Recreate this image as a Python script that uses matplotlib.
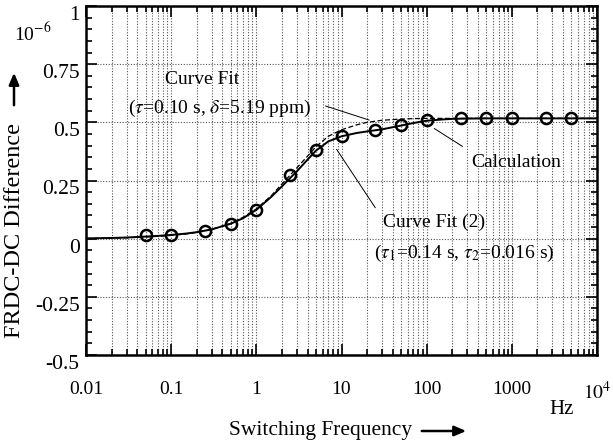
import matplotlib
matplotlib.use("Agg")
import matplotlib.pyplot as plt
from matplotlib.ticker import FixedLocator, FixedFormatter, NullFormatter, LogLocator, MultipleLocator
from matplotlib.transforms import ScaledTranslation
import numpy as np

plt.rcParams['font.family'] = ['Liberation Serif', 'DejaVu Serif']
plt.rcParams['mathtext.fontset'] = 'stix'

# Calculation points
freq_calc = [0.05, 0.1, 0.25, 0.5, 1, 2.5, 5, 10, 25, 50, 100, 250, 500, 1000, 2500, 5000]
calc = [0.014, 0.014, 0.034, 0.064, 0.124, 0.272, 0.38, 0.44, 0.466, 0.487, 0.509,
        0.517, 0.517, 0.517, 0.517, 0.517]

# Curve fits
freq_fit = [0.01, 0.02, 0.03, 0.05, 0.07, 0.1, 0.15, 0.2, 0.3, 0.5, 0.7, 1, 1.5, 2, 3, 4,
            5, 7, 10, 15, 20, 30, 50, 70, 100, 150, 200, 300, 500, 1000, 3000, 10000]
fit2 = [0.001, 0.003, 0.005, 0.009, 0.012, 0.016, 0.022, 0.028, 0.040, 0.064, 0.088,
        0.124, 0.180, 0.225, 0.290, 0.340, 0.378, 0.418, 0.440, 0.454, 0.461, 0.470,
        0.486, 0.497, 0.507, 0.512, 0.515, 0.516, 0.517, 0.517, 0.517, 0.517]
fit1 = [0.001, 0.002, 0.004, 0.007, 0.010, 0.014, 0.020, 0.027, 0.040, 0.066, 0.092,
        0.128, 0.185, 0.235, 0.305, 0.355, 0.395, 0.440, 0.468, 0.489, 0.500, 0.509,
        0.514, 0.516, 0.517, 0.517, 0.517, 0.517, 0.517, 0.517, 0.517, 0.517]

xticks = [0.01, 0.1, 1, 10, 100, 1000, 10000]
xticklabels = ["0.01", "0.1", "1", "10", "100", "1000", r"$10^4$"]
yticks = [-0.5, -0.25, 0, 0.25, 0.5, 0.75, 1]
yticklabels = ["-0.5", "-0.25", "0", "0.25", "0.5", "0.75", "1"]

fig = plt.figure(figsize=(6.13, 4.47), dpi=100)
W, H = 613, 447
ax = fig.add_axes([86 / W, 1 - 355 / H, (597 - 86) / W, (355 - 6) / H])

ax.set_xscale('log')
ax.set_xlim(0.01, 10000)
ax.set_ylim(-0.5, 1)

ax.plot(freq_fit, fit1, color='black', lw=0.9, ls=(0, (4, 2)), zorder=3)
ax.plot(freq_fit, fit2, color='black', lw=1.4, zorder=3)
ax.plot(freq_calc, calc, ls='none', marker='o', ms=8, mfc='none', mec='black',
        mew=1.8, zorder=4)

# axes styling
for s in ax.spines.values():
    s.set_linewidth(1.8)
ax.xaxis.set_major_locator(FixedLocator(xticks))
ax.xaxis.set_major_formatter(FixedFormatter(xticklabels))
ax.xaxis.set_minor_locator(LogLocator(base=10, subs=np.arange(2, 10)))
ax.xaxis.set_minor_formatter(NullFormatter())
ax.yaxis.set_major_locator(FixedLocator(yticks))
ax.yaxis.set_major_formatter(FixedFormatter(yticklabels))
ax.yaxis.set_minor_locator(MultipleLocator(0.05))

ax.tick_params(which='both', direction='in', top=True, right=True, width=1.2)
ax.tick_params(which='major', length=8)
ax.tick_params(which='minor', length=4.5)
ax.tick_params(axis='x', which='major', pad=19, labelsize=14)
ax.tick_params(axis='y', which='major', pad=4.5, labelsize=15.5)
off = ScaledTranslation(0, -5 / 72, fig.dpi_scale_trans)
for lab in ax.get_yticklabels():
    lab.set_transform(lab.get_transform() + off)

ax.grid(True, which='major', axis='y', ls=(0, (1, 1.5)), color='#555555', lw=0.8)
ax.grid(True, which='both', axis='x', ls=(0, (1, 1.5)), color='#555555', lw=0.8)

# annotations
fs = 14
ax.text(0.23, 0.682, "Curve Fit", fontsize=fs, ha='center', va='center')
ax.text(0.374, 0.561, r"($\tau$=0.10 s, $\delta$=5.19 ppm)", fontsize=fs,
        ha='center', va='center')
ax.annotate("", xy=(22.7, 0.506), xytext=(6.05, 0.574),
            arrowprops=dict(arrowstyle='-', lw=0.7, color='black'))
ax.text(1114, 0.329, "Calculation", fontsize=fs, ha='center', va='center')
ax.annotate("", xy=(115, 0.48), xytext=(281, 0.39),
            arrowprops=dict(arrowstyle='-', lw=0.7, color='black'))
ax.text(30.6, 0.071, "Curve Fit (2)", fontsize=fs, ha='left', va='center')
ax.text(24, -0.063, r"($\tau_1$=0.14 s, $\tau_2$=0.016 s)", fontsize=fs,
        ha='left', va='center')
ax.annotate("", xy=(8.4, 0.394), xytext=(26, 0.123),
            arrowprops=dict(arrowstyle='-', lw=0.7, color='black'))

# axis labels and units
fig.text(33 / W, 1 - 33 / H, r"10$^{-6}$", fontsize=14, ha='center', va='center')
fig.text(15 / W, 1 - 231 / H, "FRDC-DC Difference", fontsize=17.5, rotation=90,
         ha='center', va='center')
fig.text(562 / W, 1 - 410 / H, "Hz", fontsize=15, ha='center', va='center')
fig.text(321 / W, 1 - 430 / H, "Switching Frequency", fontsize=15.5,
         ha='center', va='center')
fig.add_artist(matplotlib.patches.FancyArrowPatch(
    (419 / W, 1 - 431 / H), (469 / W, 1 - 431 / H), transform=fig.transFigure,
    arrowstyle='-|>,head_length=7,head_width=3', lw=1.8, color='black',
    mutation_scale=1))
fig.add_artist(matplotlib.patches.FancyArrowPatch(
    (14 / W, 1 - 108 / H), (14 / W, 1 - 70 / H), transform=fig.transFigure,
    arrowstyle='-|>,head_length=7,head_width=3', lw=1.8, color='black',
    mutation_scale=1))

fig.savefig("out.png", dpi=100)
